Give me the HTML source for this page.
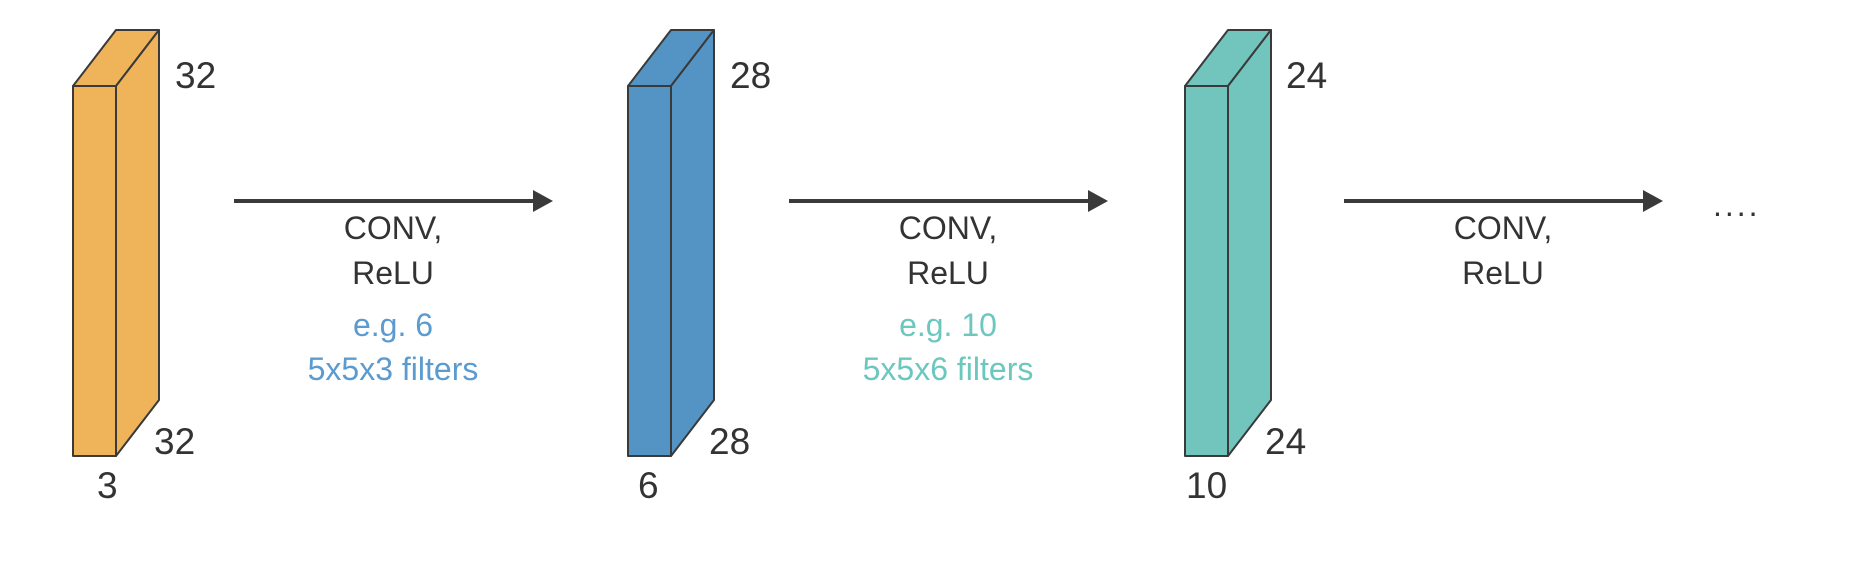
<!DOCTYPE html>
<html><head><meta charset="utf-8"><style>
html,body{margin:0;padding:0;background:#fff;}
svg{display:block;}
text{font-family:"Liberation Sans",sans-serif;fill:#333;}
</style></head><body>
<svg width="1852" height="574" viewBox="0 0 1852 574">
<g stroke="#3a3a3a" stroke-width="2" stroke-linejoin="round">
<polygon points="73,86 116,30 159,30 116,86" fill="#EFB45A"/>
<polygon points="116,86 159,30 159,400 116,456" fill="#EFB45A"/>
<rect x="73" y="86" width="43" height="370" fill="#EFB45A"/>
<polygon points="628,86 671,30 714,30 671,86" fill="#5494C5"/>
<polygon points="671,86 714,30 714,400 671,456" fill="#5494C5"/>
<rect x="628" y="86" width="43" height="370" fill="#5494C5"/>
<polygon points="1185,86 1228,30 1271,30 1228,86" fill="#71C5BD"/>
<polygon points="1228,86 1271,30 1271,400 1228,456" fill="#71C5BD"/>
<rect x="1185" y="86" width="43" height="370" fill="#71C5BD"/>
</g>
<g stroke="#3a3a3a" stroke-width="4">
<line x1="234" y1="201" x2="536" y2="201"/>
<line x1="789" y1="201" x2="1091" y2="201"/>
<line x1="1344" y1="201" x2="1646" y2="201"/>
</g>
<g fill="#3a3a3a">
<polygon points="533,190 553,201 533,212"/>
<polygon points="1088,190 1108,201 1088,212"/>
<polygon points="1643,190 1663,201 1643,212"/>
</g>
<g font-size="37">
<text x="175" y="88">32</text>
<text x="154" y="454">32</text>
<text x="97" y="498">3</text>
<text x="730" y="88">28</text>
<text x="709" y="454">28</text>
<text x="638" y="498">6</text>
<text x="1286" y="88">24</text>
<text x="1265" y="454">24</text>
<text x="1186" y="498">10</text>
</g>
<g font-size="32" text-anchor="middle">
<text x="393" y="239">CONV,</text>
<text x="393" y="284">ReLU</text>
<text x="393" y="336" style="fill:#5B9BD0">e.g. 6</text>
<text x="393" y="380" style="fill:#5B9BD0">5x5x3 filters</text>
<text x="948" y="239">CONV,</text>
<text x="948" y="284">ReLU</text>
<text x="948" y="336" style="fill:#6CC7BE">e.g. 10</text>
<text x="948" y="380" style="fill:#6CC7BE">5x5x6 filters</text>
<text x="1503" y="239">CONV,</text>
<text x="1503" y="284">ReLU</text>
</g>
<text x="1713" y="216" font-size="32" letter-spacing="3">....</text>
</svg>
</body></html>
